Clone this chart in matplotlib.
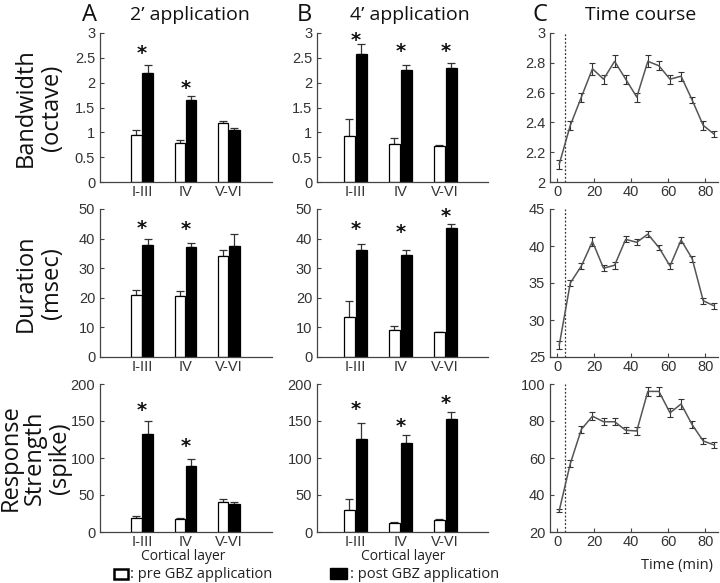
import numpy as np
import matplotlib
matplotlib.use("Agg")
import matplotlib.pyplot as plt
from matplotlib.patches import Rectangle
from matplotlib.ticker import FormatStrFormatter

layers = ["I-III", "IV", "V-VI"]

# 2' application
bw2_pre = [0.95, 0.78, 1.18]
bw2_pre_err = [0.10, 0.07, 0.05]
bw2_post = [2.20, 1.65, 1.05]
bw2_post_err = [0.15, 0.08, 0.03]
bw2_star = [2.58, 1.88, None]

dur2_pre = [21.0, 20.7, 34.0]
dur2_pre_err = [1.8, 1.5, 2.0]
dur2_post = [38.0, 37.0, 37.5]
dur2_post_err = [1.7, 1.5, 4.0]
dur2_star = [43.5, 43.0, None]

rs2_pre = [19.0, 18.0, 40.0]
rs2_pre_err = [3.0, 1.5, 5.0]
rs2_post = [132.0, 89.0, 38.0]
rs2_post_err = [18.0, 9.0, 2.0]
rs2_star = [164.0, 116.0, None]

# 4' application
bw4_pre = [0.93, 0.77, 0.73]
bw4_pre_err = [0.34, 0.12, 0.02]
bw4_post = [2.57, 2.25, 2.30]
bw4_post_err = [0.20, 0.10, 0.09]
bw4_star = [2.85, 2.63, 2.63]

dur4_pre = [13.5, 9.2, 8.3]
dur4_pre_err = [5.5, 1.3, 0.2]
dur4_post = [36.0, 34.5, 43.5]
dur4_post_err = [2.2, 1.5, 1.5]
dur4_star = [43.0, 42.0, 47.5]

rs4_pre = [30.0, 12.0, 16.0]
rs4_pre_err = [15.0, 1.5, 1.0]
rs4_post = [126.0, 120.0, 153.0]
rs4_post_err = [21.0, 11.0, 9.0]
rs4_star = [166.0, 142.0, 174.0]

# time course
time_min = [1, 7, 13, 19, 25, 31, 37, 43, 49, 55, 61, 67, 73, 79, 85]
tc_bw = [2.12, 2.38, 2.57, 2.76, 2.69, 2.81, 2.69, 2.57, 2.81, 2.78, 2.69, 2.71, 2.55, 2.38, 2.32]
tc_bw_err = [0.03, 0.03, 0.03, 0.04, 0.03, 0.04, 0.03, 0.03, 0.04, 0.03, 0.03, 0.03, 0.02, 0.03, 0.02]
tc_dur = [26.6, 35.0, 37.3, 40.6, 37.0, 37.4, 40.9, 40.5, 41.6, 39.8, 37.3, 40.8, 38.3, 32.6, 31.9]
tc_dur_err = [0.5, 0.4, 0.4, 0.6, 0.4, 0.5, 0.4, 0.4, 0.4, 0.4, 0.4, 0.4, 0.4, 0.4, 0.4]
tc_rs = [31.6, 57.0, 75.5, 82.6, 79.6, 79.6, 75.0, 74.6, 96.0, 96.0, 84.4, 89.2, 78.0, 69.2, 67.0]
tc_rs_err = [1.0, 2.0, 2.0, 2.0, 2.0, 2.0, 1.5, 2.0, 2.5, 2.5, 2.5, 2.5, 2.0, 1.5, 1.5]
gbz_time = 4.3

row_labels = [["Bandwidth", "(octave)"], ["Duration", "(msec)"], ["Response", "Strength", "(spike)"]]
row_ylims = [(0, 3), (0, 50), (0, 200)]
row_yticks = [[0, 0.5, 1, 1.5, 2, 2.5, 3], [0, 10, 20, 30, 40, 50], [0, 50, 100, 150, 200]]
tc_ylims = [(2, 3), (25, 45), (20, 100)]
tc_yticks = [[2, 2.2, 2.4, 2.6, 2.8, 3], [25, 30, 35, 40, 45], [20, 40, 60, 80, 100]]

TICK_FONT = "Liberation Sans"
LABEL_FONT = "Open Sans"
AX_COLOR = "#444444"

W, H = 720, 583
rows_px = [(33, 182), (209, 357), (384, 532)]
cols_px = [(100, 272), (317, 488), (550, 718)]
label_xs = [[26, 52], [26, 52], [11, 35, 60]]


def make_axes(fig, col, row):
    x0, x1 = cols_px[col]
    y0, y1 = rows_px[row]
    return fig.add_axes([x0 / W, 1 - y1 / H, (x1 - x0) / W, (y1 - y0) / H])


def style_axes(ax):
    for side in ["top", "right"]:
        ax.spines[side].set_visible(False)
    for side in ["left", "bottom"]:
        ax.spines[side].set_color(AX_COLOR)
        ax.spines[side].set_linewidth(0.9)
    ax.yaxis.set_major_formatter(FormatStrFormatter("%g"))
    ax.tick_params(colors=AX_COLOR, labelcolor="#333333", direction="in", length=3, width=0.8,
                   labelsize=10.5)
    ax.tick_params(axis="x", pad=2.5)
    for lab in ax.get_xticklabels() + ax.get_yticklabels():
        lab.set_fontfamily(TICK_FONT)


def bar_panel(ax, pre, pre_err, post, post_err, stars, row, xlim):
    x = np.arange(1, len(layers) + 1)
    off, w = 0.13, 0.24
    ax.bar(x - off, pre, w, color="white", edgecolor="black", linewidth=0.9, zorder=2)
    ax.bar(x + off, post, w, color="black", edgecolor="black", linewidth=0.9, zorder=2)
    ax.errorbar(x - off, pre, yerr=[np.zeros(3), pre_err], fmt="none", ecolor="#333333",
                elinewidth=0.9, capsize=3, capthick=0.9, zorder=1)
    ax.errorbar(x + off, post, yerr=[np.zeros(3), post_err], fmt="none", ecolor="#333333",
                elinewidth=0.9, capsize=3, capthick=0.9, zorder=1)
    for xi, s in zip(x, stars):
        if s is not None:
            ax.text(xi, s, "*", ha="center", va="center", fontsize=14, fontweight="bold",
                    fontfamily="DejaVu Sans", color="#111111")
    ax.set_xlim(*xlim)
    ax.set_ylim(*row_ylims[row])
    ax.set_yticks(row_yticks[row])
    ax.set_xticks(x)
    ax.set_xticklabels(layers)
    ax.tick_params(axis="x", length=0)
    style_axes(ax)


def tc_panel(ax, vals, errs, row):
    ax.errorbar(time_min, vals, yerr=errs, color="#555555", linewidth=1.1, elinewidth=0.8,
                capsize=2, capthick=0.8, ecolor="#333333")
    ax.axvline(gbz_time, color="#333333", linestyle=(0, (1.5, 1.5)), linewidth=0.9)
    ax.set_xlim(-4, 87)
    ax.set_ylim(*tc_ylims[row])
    ax.set_yticks(tc_yticks[row])
    ax.set_xticks([0, 20, 40, 60, 80])
    style_axes(ax)


fig = plt.figure(figsize=(W / 100, H / 100), dpi=100)

data2 = [(bw2_pre, bw2_pre_err, bw2_post, bw2_post_err, bw2_star),
         (dur2_pre, dur2_pre_err, dur2_post, dur2_post_err, dur2_star),
         (rs2_pre, rs2_pre_err, rs2_post, rs2_post_err, rs2_star)]
data4 = [(bw4_pre, bw4_pre_err, bw4_post, bw4_post_err, bw4_star),
         (dur4_pre, dur4_pre_err, dur4_post, dur4_post_err, dur4_star),
         (rs4_pre, rs4_pre_err, rs4_post, rs4_post_err, rs4_star)]
tc_data = [(tc_bw, tc_bw_err), (tc_dur, tc_dur_err), (tc_rs, tc_rs_err)]

for row in range(3):
    axA = make_axes(fig, 0, row)
    bar_panel(axA, *data2[row], row, (0.03, 4.0))
    axB = make_axes(fig, 1, row)
    bar_panel(axB, *data4[row], row, (0.15, 3.95))
    axC = make_axes(fig, 2, row)
    tc_panel(axC, *tc_data[row], row)
    cy = 1 - (rows_px[row][0] + rows_px[row][1]) / 2 / H
    for lx, line in zip(label_xs[row], row_labels[row]):
        fig.text(lx / W, cy, line, rotation=90, ha="center", va="center",
                 fontsize=17, fontfamily=LABEL_FONT, color="#111111")

# panel headers
fig.text(82 / W, 1 - 15 / H, "A", fontsize=17, fontfamily=LABEL_FONT, va="center", color="#111111")
fig.text(190 / W, 1 - 15 / H, "2\u2019 application", fontsize=14, fontfamily=LABEL_FONT,
         ha="center", va="center", color="#111111")
fig.text(297 / W, 1 - 15 / H, "B", fontsize=17, fontfamily=LABEL_FONT, va="center", color="#111111")
fig.text(410 / W, 1 - 15 / H, "4\u2019 application", fontsize=14, fontfamily=LABEL_FONT,
         ha="center", va="center", color="#111111")
fig.text(533 / W, 1 - 15 / H, "C", fontsize=17, fontfamily=LABEL_FONT, va="center", color="#111111")
fig.text(641 / W, 1 - 15 / H, "Time course", fontsize=14, fontfamily=LABEL_FONT,
         ha="center", va="center", color="#111111")

# x labels
for cx in [183, 403]:
    fig.text(cx / W, 1 - 556 / H, "Cortical layer", fontsize=10, fontfamily=LABEL_FONT,
             ha="center", va="center", color="#222222")
fig.text(713 / W, 1 - 566 / H, "Time (min)", fontsize=10.5, fontfamily=LABEL_FONT,
         ha="right", va="center", color="#222222")

# legend
fig.patches.append(Rectangle((114 / W, 1 - 579 / H), 14 / W, 10 / H, transform=fig.transFigure,
                             facecolor="white", edgecolor="black", linewidth=1.8))
fig.text(130 / W, 1 - 574 / H, ": pre GBZ application", fontsize=10.5, fontfamily=LABEL_FONT,
         va="center", color="#222222")
fig.patches.append(Rectangle((330 / W, 1 - 579 / H), 17 / W, 11 / H, transform=fig.transFigure,
                             facecolor="black", edgecolor="black", linewidth=1.0))
fig.text(350 / W, 1 - 574 / H, ": post GBZ application", fontsize=10.5, fontfamily=LABEL_FONT,
         va="center", color="#222222")

fig.savefig("out.png", dpi=100)
